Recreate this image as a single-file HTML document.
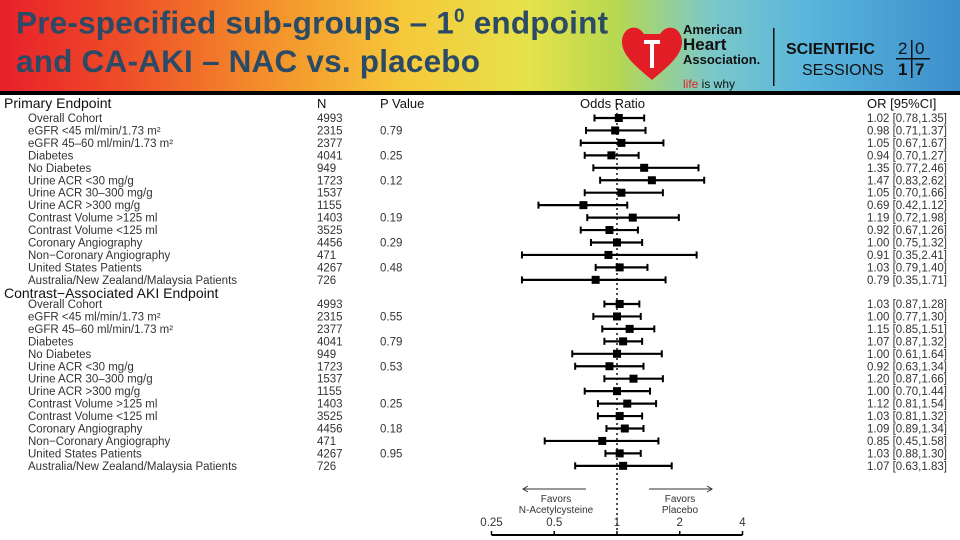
<!DOCTYPE html>
<html><head><meta charset="utf-8">
<style>
html,body{margin:0;padding:0;width:960px;height:540px;overflow:hidden;background:#fff;font-family:"Liberation Sans",sans-serif;}
#hdr{position:absolute;left:0;top:0;width:960px;height:91px;background:linear-gradient(90deg,#e8202a 0%,#ee4a28 12%,#f4902a 28%,#f6c83a 42%,#e6e24a 55%,#b8d850 64%,#7cc8c8 74%,#5ab6dc 84%,#3c8fcc 100%);}
#bar{position:absolute;left:0;top:91px;width:960px;height:4px;background:#000;}
#title{position:absolute;left:16px;top:-2px;font-size:31.5px;font-weight:bold;line-height:38px;color:#2b4a66;letter-spacing:0.2px;}
svg{position:absolute;left:0;top:0;}
</style></head><body>
<div id="hdr"></div>
<div id="bar"></div>
<div id="title">Pre-specified sub-groups – 1<sup style="font-size:19px">0</sup> endpoint<br>and CA-AKI – NAC vs. placebo</div>
<svg width="960" height="540" id="c">
<g>
<path d="M652 36 C644 24 630 30 630 44 C630 58 646 70 660 82 C674 70 690 58 690 44 C690 30 676 24 668 36 Z" fill="#e21d26" transform="translate(-8,-2)"/>
<rect x="650" y="42" width="4" height="26" fill="#fff"/><rect x="644" y="40" width="16" height="4" fill="#fff"/>
<text x="683" y="34" font-size="13" font-weight="bold" fill="#111">American</text>
<text x="683" y="50" font-size="17" font-weight="bold" fill="#111">Heart</text>
<text x="683" y="64" font-size="13" font-weight="bold" fill="#111">Association.</text>
<text x="683" y="88" font-size="12" fill="#111"><tspan fill="#e21d26">life</tspan> is why</text>
<rect x="773" y="28" width="1.5" height="58" fill="#111"/>
<text x="786" y="54" font-size="16" font-weight="bold" fill="#111">SCIENTIFIC</text>
<text x="802" y="75" font-size="16" fill="#111">SESSIONS</text>
<text x="898" y="54" font-size="17" fill="#111">2</text><text x="915" y="54" font-size="17" fill="#111">0</text>
<text x="898" y="75" font-size="17" font-weight="bold" fill="#111">1</text><text x="915" y="75" font-size="17" font-weight="bold" fill="#111">7</text>
<rect x="911" y="40" width="1.5" height="38" fill="#111"/><rect x="896" y="58" width="34" height="1.5" fill="#111"/>
</g>
</svg>
<script>
const labels=["Overall Cohort","eGFR <45 ml/min/1.73 m²","eGFR 45–60 ml/min/1.73 m²","Diabetes","No Diabetes","Urine ACR <30 mg/g","Urine ACR 30–300 mg/g","Urine ACR >300 mg/g","Contrast Volume >125 ml","Contrast Volume <125 ml","Coronary Angiography","Non−Coronary Angiography","United States Patients","Australia/New Zealand/Malaysia Patients"];
const nVals=["4993","2315","2377","4041","949","1723","1537","1155","1403","3525","4456","471","4267","726"];
const pPrimary=["","0.79","","0.25","","0.12","","","0.19","","0.29","","0.48",""];
const pAki=["","0.55","","0.79","","0.53","","","0.25","","0.18","","0.95",""];
const orPrimary=[1.02,0.98,1.05,0.94,1.35,1.47,1.05,0.69,1.19,0.92,1.00,0.91,1.03,0.79];
const loPrimary=[0.78,0.71,0.67,0.70,0.77,0.83,0.70,0.42,0.72,0.67,0.75,0.35,0.79,0.35];
const hiPrimary=[1.35,1.37,1.67,1.27,2.46,2.62,1.66,1.12,1.98,1.26,1.32,2.41,1.40,1.71];
const orAki=[1.03,1.00,1.15,1.07,1.00,0.92,1.20,1.00,1.12,1.03,1.09,0.85,1.03,1.07];
const loAki=[0.87,0.77,0.85,0.87,0.61,0.63,0.87,0.70,0.81,0.81,0.89,0.45,0.88,0.63];
const hiAki=[1.28,1.30,1.51,1.32,1.64,1.34,1.66,1.44,1.54,1.32,1.34,1.58,1.30,1.83];
const ticks=[0.25,0.5,1,2,4];
const tickLabels=["0.25","0.5","1","2","4"];
const svg=document.getElementById('c');const NS="http://www.w3.org/2000/svg";
function xs(v){return 617+62.75*Math.log2(v);}
function mk(t,a,txt){const e=document.createElementNS(NS,t);for(const k in a)e.setAttribute(k,a[k]);if(txt!==undefined)e.textContent=txt;svg.appendChild(e);return e;}
const f=s=>s.toFixed(2);
let e;
e=mk('text',{x:4,y:108,'font-size':14,fill:'#111'},'Primary Endpoint');


e=mk('text',{x:4,y:298,'font-size':14,fill:'#111'},'Contrast−Associated AKI Endpoint');


[["N",317],["P Value",380],["Odds Ratio",580],["OR  [95%CI]",867]].forEach(h=>{e=mk('text',{x:h[1],y:108,'font-size':13,fill:'#111'},h[0]);

});
e=mk('line',{x1:xs(1),x2:xs(1),y1:103,y2:530,stroke:'#111','stroke-width':1.5,'stroke-dasharray':'2,3'});


function block(y0,ors,los,his,ps,nm){
 for(let i=0;i<labels.length;i++){
  const y=y0+i*12.45;
  e=mk('text',{x:28,y:y+4,'font-size':11.5,fill:'#333'},labels[i]);
  
  
  e=mk('text',{x:317,y:y+4,'font-size':11.5,fill:'#333'},nVals[i]);
  
  
  if(ps[i]){e=mk('text',{x:380,y:y+4,'font-size':11.5,fill:'#333'},ps[i]);
  
  }
  const x1=xs(los[i]),x2=xs(his[i]);
  e=mk('line',{x1:x1,x2:x2,y1:y,y2:y,stroke:'#000','stroke-width':2.2});
  
  
  [x1,x2].forEach(xx=>{e=mk('line',{x1:xx,x2:xx,y1:y-3.5,y2:y+3.5,stroke:'#000','stroke-width':2});
  
  });
  const c=xs(ors[i]);
  e=mk('rect',{x:c-4,y:y-4,width:8,height:8,fill:'#000'});
  
  
  e=mk('text',{x:867,y:y+4,'font-size':11.5,fill:'#333'},f(ors[i])+' ['+f(los[i])+','+f(his[i])+']');
  
  
 }
}
block(118,orPrimary,loPrimary,hiPrimary,pPrimary,'primary');
block(304,orAki,loAki,hiAki,pAki,'aki');
e=mk('line',{x1:xs(0.25),x2:xs(4),y1:535,y2:535,stroke:'#000','stroke-width':2});


ticks.forEach((t,i)=>{
 e=mk('line',{x1:xs(t),x2:xs(t),y1:531,y2:535,stroke:'#000','stroke-width':1.5});
 
 
 e=mk('text',{x:xs(t),y:526,'font-size':11.5,fill:'#333','text-anchor':'middle'},tickLabels[i]);
 
 
});
e=mk('path',{d:'M586 489 L523 489 M528 486 L523 489 L528 492 M649 489 L712 489 M707 486 L712 489 L707 492',stroke:'#333','stroke-width':1,fill:'none'});


[["Favors",556,502],["N-Acetylcysteine",556,513],["Favors",680,502],["Placebo",680,513]].forEach(a=>{
 e=mk('text',{x:a[1],y:a[2],'font-size':10,fill:'#333','text-anchor':'middle'},a[0]);
 
 
});
</script>
</body></html>
